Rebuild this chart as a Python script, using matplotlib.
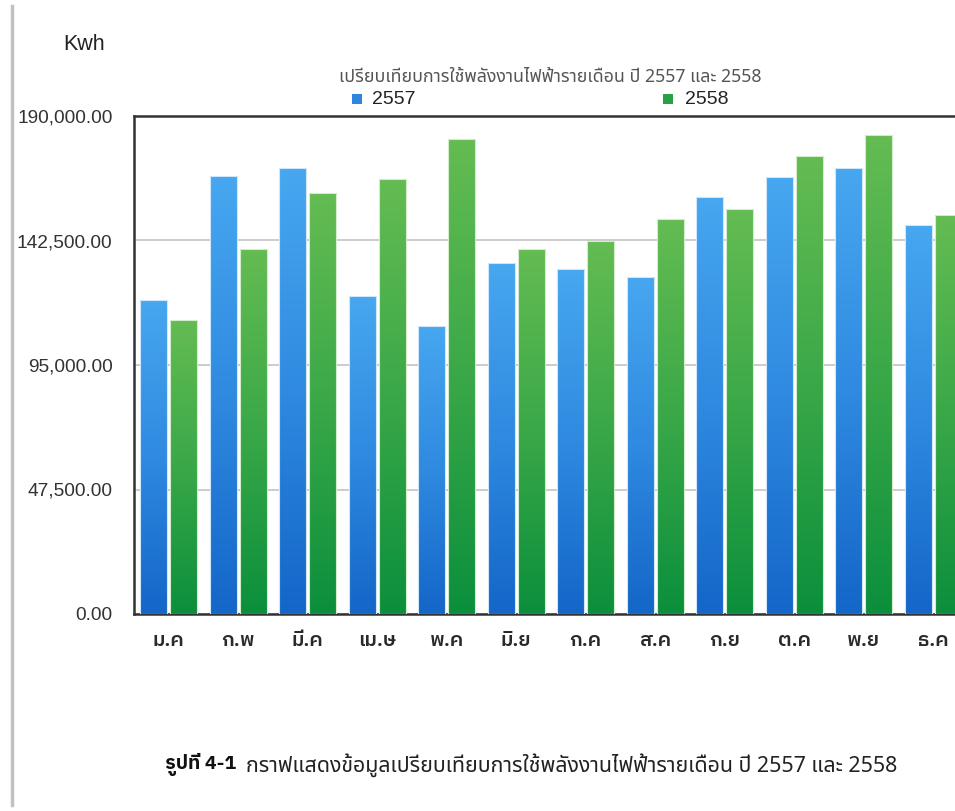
import matplotlib
matplotlib.use("Agg")
import matplotlib.pyplot as plt
import numpy as np
from matplotlib.colors import LinearSegmentedColormap
from matplotlib.lines import Line2D
from matplotlib.patches import Rectangle

# ---- data ----
months = ["ม.ค", "ก.พ", "มี.ค", "เม.ษ", "พ.ค", "มิ.ย", "ก.ค", "ส.ค", "ก.ย", "ต.ค", "พ.ย", "ธ.ค"]
y2557 = [119800, 167100, 170100, 121300, 109900, 133900, 131600, 128600, 159100, 166700, 170100, 148400]
y2558 = [112200, 139300, 160600, 165900, 181200, 139300, 142300, 150700, 154500, 174700, 182700, 152200]
series_names = ["2557", "2558"]
yticks = [0, 47500, 95000, 142500, 190000]
title = "เปรียบเทียบการใช้พลังงานไฟฟ้ารายเดือน ปี 2557 และ 2558"
caption_bold = "รูปที่ 4-1"
caption_text = "กราฟแสดงข้อมูลเปรียบเทียบการใช้พลังงานไฟฟ้ารายเดือน ปี 2557 และ 2558"

FAM = ["Liberation Sans", "Noto Sans Thai", "DejaVu Sans"]
THAI = ["Noto Sans Thai", "Liberation Sans", "DejaVu Sans"]
THAI_B = ["IBM Plex Sans Thai", "Noto Sans Thai", "Liberation Sans", "DejaVu Sans"]
plt.rcParams['font.family'] = FAM

W, H = 955, 811
fig = plt.figure(figsize=(W / 100, H / 100), dpi=100)
fig.patch.set_facecolor("white")

ax_left, ax_right, ax_top, ax_bot = 134, 968, 116, 614
ax = fig.add_axes([ax_left / W, 1 - ax_bot / H, (ax_right - ax_left) / W, (ax_bot - ax_top) / H])

blue_cmap = LinearSegmentedColormap.from_list("b", ["#1466c8", "#2f8ae0", "#47a7f0"])
green_cmap = LinearSegmentedColormap.from_list("g", ["#0b8f3c", "#3aa848", "#64bc52"])

x = np.arange(len(months))
bw = 0.39
off = 0.215
bars1 = ax.bar(x - off, y2557, width=bw, color="none", edgecolor="none", zorder=3)
bars2 = ax.bar(x + off, y2558, width=bw, color="none", edgecolor="none", zorder=3)

grad = np.linspace(0, 1, 256).reshape(-1, 1)
for bars, cmap, ec in [(bars1, blue_cmap, "#cfe6fb"), (bars2, green_cmap, "#d3edcc")]:
    for b in bars:
        bx, by = b.get_x(), b.get_y()
        bwid, bh = b.get_width(), b.get_height()
        im = ax.imshow(grad, cmap=cmap, origin="lower", aspect="auto",
                       extent=[bx, bx + bwid, by, by + bh], zorder=3, interpolation="bilinear")
        im.set_clip_path(b)
        r = Rectangle((bx, by), bwid, bh, fill=False, edgecolor=ec, lw=0.8, zorder=4)
        ax.add_patch(r)
ax.set_xlim(-0.5, len(months) - 0.5)
ax.set_ylim(0, 190000)

ax.set_yticks(yticks)
ax.set_yticklabels([f"{v:,.2f}" for v in yticks])
ax.yaxis.grid(True, color="#c4c4c4", lw=1.2, zorder=1)
ax.set_axisbelow(True)
ax.tick_params(axis="y", length=0, pad=15.5, labelsize=13.8, labelcolor="#333333")
ax.set_xticks(x)
ax.set_xticklabels(months, family=THAI_B, fontsize=14.5, fontweight="semibold", color="#2a2a2a")
ax.tick_params(axis="x", length=0, pad=12)
for s in ax.spines.values():
    s.set_color("#333333")
    s.set_linewidth(1.8)

# unit label
fig.text(84 / W, 1 - 45 / H, "Kwh", ha="center", va="center", fontsize=15.5, color="#222222")

# title
fig.text(550 / W, 1 - 77 / H, title, ha="center", va="center", fontsize=12.8,
         color="#555555", family=THAI)

# legend
fig.patches.append(Rectangle((352 / W, 1 - 104 / H), 10 / W, 10 / H, transform=fig.transFigure,
                             facecolor="#2e86de", edgecolor="none"))
fig.text(372 / W, 1 - 100 / H, series_names[0], ha="left", va="center", fontsize=14, color="#222222")
fig.patches.append(Rectangle((663 / W, 1 - 104 / H), 10 / W, 10 / H, transform=fig.transFigure,
                             facecolor="#27a243", edgecolor="none"))
fig.text(685 / W, 1 - 100 / H, series_names[1], ha="left", va="center", fontsize=14, color="#222222")

# page border line
fig.add_artist(Line2D([12 / W, 12 / W], [1 - 6 / H, 1 - 805 / H], transform=fig.transFigure,
                      color="#c2c2c2", lw=2.5))

# caption
fig.text(165 / W, 1 - 765 / H, caption_bold, ha="left", va="center", fontsize=14,
         fontweight="bold", color="#111111", family=THAI_B)
fig.text(246 / W, 1 - 765 / H, caption_text, ha="left", va="center", fontsize=15.4,
         color="#222222", family=THAI)

fig.savefig("out.png", dpi=100)
